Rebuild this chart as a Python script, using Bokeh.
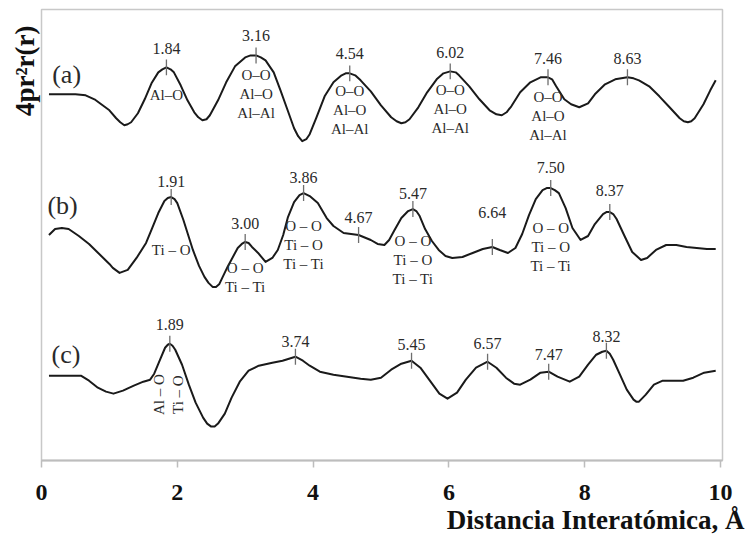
import numpy as np
from bokeh.plotting import figure
from bokeh.models import Range1d, FixedTicker, Title
from bokeh.core.properties import value
from bokeh.embed import file_html
from bokeh.resources import INLINE

# ---------------- data (arbitrary vertical units) ----------------
r_a = [0.11, 0.30, 0.50, 0.65, 0.78, 0.90, 1.00, 1.10, 1.16, 1.22, 1.27, 1.32, 1.42, 1.52, 1.62,
       1.72, 1.78, 1.84, 1.90, 1.95, 2.05, 2.15, 2.25, 2.31, 2.37, 2.43, 2.48, 2.60, 2.72, 2.85,
       3.00, 3.08, 3.16, 3.23, 3.30, 3.42, 3.52, 3.62, 3.72, 3.78, 3.84, 3.90, 3.95, 4.05, 4.17,
       4.30, 4.42, 4.48, 4.54, 4.62, 4.70, 4.85, 5.00, 5.15, 5.23, 5.30, 5.36, 5.42, 5.55, 5.68,
       5.82, 5.92, 6.02, 6.10, 6.15, 6.30, 6.45, 6.60, 6.70, 6.78, 6.85, 6.92, 7.05, 7.20, 7.35,
       7.46, 7.52, 7.58, 7.70, 7.80, 7.92, 8.05, 8.15, 8.30, 8.45, 8.63, 8.72, 8.80, 8.95, 9.10,
       9.25, 9.40, 9.46, 9.52, 9.57, 9.62, 9.75, 9.85, 9.93]
g_a = [367, 367, 367, 366, 362, 356, 351, 343, 339, 336, 337, 339, 348, 362, 378,
       389, 392, 394, 392, 389, 376, 361, 349, 344, 341, 342, 346, 361, 379, 395,
       404, 406, 406, 404, 401, 389, 371, 352, 333, 325, 320, 322, 327, 344, 365,
       379, 386, 388, 388, 386, 381, 370, 356, 344, 340, 338, 339, 342, 354, 369,
       382, 388, 390, 389, 386, 375, 362, 351, 347, 346, 349, 355, 369, 379, 384,
       384, 382, 375, 362, 357, 354, 358, 367, 377, 382, 384, 383, 381, 375, 365,
       354, 343, 340, 339, 340, 343, 357, 371, 381]

r_b = [0.11, 0.20, 0.30, 0.40, 0.55, 0.70, 0.85, 1.00, 1.05, 1.15, 1.27, 1.40, 1.54, 1.63, 1.72,
       1.81, 1.86, 1.91, 1.96, 2.00, 2.09, 2.16, 2.23, 2.32, 2.40, 2.46, 2.52, 2.57, 2.62, 2.74,
       2.89, 2.95, 3.00, 3.05, 3.10, 3.19, 3.30, 3.40, 3.48, 3.56, 3.63, 3.72, 3.80, 3.86, 3.95,
       4.07, 4.20, 4.30, 4.45, 4.67, 4.85, 4.95, 5.05, 5.12, 5.20, 5.30, 5.40, 5.47, 5.52, 5.57,
       5.65, 5.75, 5.85, 5.95, 6.05, 6.20, 6.35, 6.50, 6.64, 6.75, 6.87, 6.98, 7.08, 7.18, 7.28,
       7.38, 7.44, 7.50, 7.56, 7.62, 7.72, 7.82, 7.94, 8.05, 8.15, 8.27, 8.32, 8.37, 8.42, 8.47,
       8.58, 8.70, 8.83, 8.92, 9.05, 9.20, 9.35, 9.50, 9.65, 9.80, 9.93]
g_b = [226, 232, 233, 232, 225, 217, 207, 197, 193, 188, 191, 203, 218, 233, 248,
       260, 263, 264, 262, 258, 241, 226, 211, 195, 184, 178, 174, 174, 177, 194,
       213, 217, 219, 218, 214, 208, 199, 203, 211, 226, 244, 259, 266, 268, 265,
       258, 243, 235, 228, 226, 221, 217, 216, 221, 231, 243, 250, 252, 250, 245,
       232, 220, 211, 205, 203, 204, 208, 212, 214, 211, 208, 213, 227, 246, 262,
       271, 273, 273, 271, 268, 253, 233, 221, 225, 237, 247, 249, 249, 247, 242,
       226, 209, 201, 203, 211, 216, 216, 214, 213, 212, 212]

r_c = [0.11, 0.30, 0.58, 0.70, 0.83, 0.95, 1.06, 1.20, 1.36, 1.50, 1.60, 1.66, 1.74, 1.82, 1.86,
       1.89, 1.93, 1.97, 2.07, 2.17, 2.27, 2.38, 2.44, 2.50, 2.55, 2.60, 2.70, 2.80, 2.92, 3.05,
       3.20, 3.40, 3.55, 3.74, 3.85, 3.95, 4.10, 4.30, 4.50, 4.70, 4.85, 5.00, 5.15, 5.30, 5.45,
       5.58, 5.72, 5.86, 5.98, 6.12, 6.25, 6.40, 6.57, 6.70, 6.84, 6.96, 7.05, 7.20, 7.35, 7.47,
       7.60, 7.78, 7.92, 8.05, 8.17, 8.26, 8.32, 8.37, 8.42, 8.52, 8.62, 8.72, 8.76, 8.80, 8.90,
       9.02, 9.15, 9.30, 9.45, 9.60, 9.76, 9.93]
g_c = [85, 85, 85, 80, 73, 69, 67, 70, 75, 79, 81, 87, 100, 113, 116,
       117, 115, 111, 96, 76, 58, 43, 37, 34, 34, 37, 47, 63, 79, 90,
       95, 98, 100, 104, 100, 95, 89, 86, 84, 82, 81, 83, 91, 97, 100,
       93, 80, 67, 62, 68, 81, 93, 99, 93, 83, 77, 76, 81, 88, 89,
       84, 79, 84, 96, 106, 109, 110, 107, 101, 86, 71, 61, 59, 59, 66,
       76, 80, 80, 80, 83, 88, 90]

peaks_a = [1.84, 3.16, 4.54, 6.02, 7.46, 8.63]
peaks_b = [1.91, 3.00, 3.86, 4.67, 5.47, 6.64, 7.50, 8.37]
peaks_c = [1.89, 3.74, 5.45, 6.57, 7.47, 8.32]

bonds_a = {1.84: ["Al\u2013O"],
           3.16: ["O\u2013O", "Al\u2013O", "Al\u2013Al"],
           4.54: ["O\u2013O", "Al\u2013O", "Al\u2013Al"],
           6.02: ["O\u2013O", "Al\u2013O", "Al\u2013Al"],
           7.46: ["O\u2013O", "Al\u2013O", "Al\u2013Al"]}
bonds_b = {1.91: ["Ti \u2013 O"],
           3.00: ["O \u2013 O", "Ti \u2013 Ti"],
           3.86: ["O \u2013 O", "Ti \u2013 O", "Ti \u2013 Ti"],
           5.47: ["O \u2013 O", "Ti \u2013 O", "Ti \u2013 Ti"],
           7.50: ["O \u2013 O", "Ti \u2013 O", "Ti \u2013 Ti"]}
bonds_c_rot = ["Al \u2013 O", "Ti \u2013 O"]

xticks = [0, 2, 4, 6, 8, 10]

# ---------------- layout (label positions in plot units) ----------------
num_y_a = [413, 426, 408, 409, 403, 403]
num_y_b = [280, 238, 284, 244, 268, 249, 294, 271]
num_y_c = [136, 119, 116, 117, 106, 124]
bond_top_a = {1.84: 366, 3.16: 386, 4.54: 370, 6.02: 371, 7.46: 364}
bond_top_b = {1.91: 211, 3.00: 193, 3.86: 235, 5.47: 220, 7.50: 233}
line_step = 19
rot_dx = [-0.16, 0.12]
rot_y = 66
TXT = "#2a2a2a"
SERIF = "Liberation Serif"

p = figure(width=746, height=534, output_backend="svg", toolbar_location=None,
           x_range=Range1d(0, 10.03), y_range=Range1d(0, 452),
           min_border_left=41, min_border_right=24, min_border_top=9, min_border_bottom=73)
p.background_fill_color = "white"
p.border_fill_color = "white"
p.outline_line_color = "#c8c8c8"
p.outline_line_width = 1.5
p.grid.visible = False
p.yaxis.visible = False

xa = p.xaxis[0]
xa.ticker = FixedTicker(ticks=xticks)
xa.axis_line_color = "#bdbdbd"
xa.axis_line_width = 2
xa.major_tick_line_color = "#bdbdbd"
xa.major_tick_line_width = 1.5
xa.major_tick_in = 0
xa.major_tick_out = 7
xa.minor_tick_line_color = None
xa.major_label_text_font = SERIF
xa.major_label_text_font_style = "bold"
xa.major_label_text_font_size = "24px"
xa.major_label_text_color = "#111111"
xa.major_label_standoff = 17

for r, g in [(r_a, g_a), (r_b, g_b), (r_c, g_c)]:
    p.line(r, g, line_color="#1a1a1a", line_width=2, line_join="round")

# peak tick marks on the curves
tx, ty0, ty1 = [], [], []
for peaks, r, g in [(peaks_a, r_a, g_a), (peaks_b, r_b, g_b), (peaks_c, r_c, g_c)]:
    for pk in peaks:
        yv = float(np.interp(pk, r, g))
        tx.append(pk); ty0.append(yv - 8); ty1.append(yv + 8)
p.segment(x0=tx, y0=ty0, x1=tx, y1=ty1, line_color="#6e6e6e", line_width=1.3)

# numeric labels
nx, ny, nt = [], [], []
for peaks, ys in [(peaks_a, num_y_a), (peaks_b, num_y_b), (peaks_c, num_y_c)]:
    for pk, yv in zip(peaks, ys):
        nx.append(pk); ny.append(yv); nt.append(f"{pk:.2f}")
p.text(x=nx, y=ny, text=nt, text_font=value(SERIF), text_font_size="16px",
       text_color=TXT, text_align="center", text_baseline="middle")

# bond labels
bx, by, bt = [], [], []
for bonds, tops in [(bonds_a, bond_top_a), (bonds_b, bond_top_b)]:
    for pk, lines in bonds.items():
        for i, s in enumerate(lines):
            bx.append(pk); by.append(tops[pk] - i * line_step); bt.append(s)
p.text(x=bx, y=by, text=bt, text_font=value(SERIF), text_font_size="15px",
       text_color=TXT, text_align="center", text_baseline="middle")

p.text(x=[peaks_c[0] + d for d in rot_dx], y=[rot_y, rot_y], text=bonds_c_rot,
       text_font=value(SERIF), text_font_size="15px", text_color=TXT,
       text_align="center", text_baseline="middle", angle=np.pi / 2)

# panel letters
p.text(x=[0.37, 0.31, 0.36], y=[387, 256, 106], text=["(a)", "(b)", "(c)"],
       text_font=value(SERIF), text_font_size="26px", text_color=TXT,
       text_align="center", text_baseline="middle")

# axis titles
p.add_layout(Title(text="4pr\u00b2r(r)", align="right", offset=16, standoff=4,
                   text_font=SERIF, text_font_style="bold", text_font_size="27px",
                   text_color="#111111"), "left")
p.add_layout(Title(text="Distancia Interat\u00f3mica, \u00c5", align="right", offset=-22,
                   standoff=0, text_font=SERIF, text_font_style="bold",
                   text_font_size="27px", text_color="#111111"), "below")

open("out.html", "w").write(file_html(p, INLINE))
